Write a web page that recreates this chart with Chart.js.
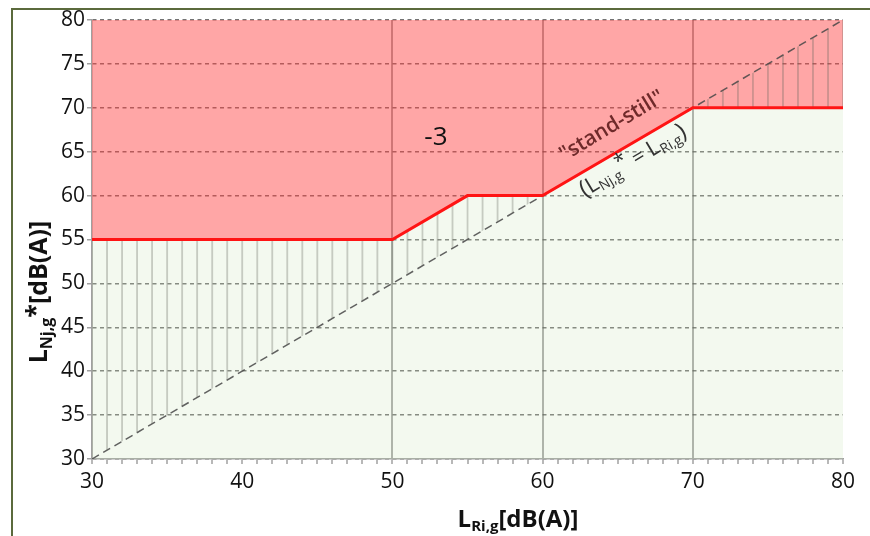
<!DOCTYPE html>
<html>
<head>
<meta charset="utf-8">
<script src="https://cdn.jsdelivr.net/npm/chart.js@4/dist/chart.umd.min.js"></script>
<style>
html, body { margin: 0; padding: 0; background: #fff; }
</style>
</head>
<body>
<canvas id="limitChart" width="870" height="536"></canvas>
<script>
// limit curve L_Nj,g* against L_Ri,g
const limitX = [30, 50, 55, 60, 70, 80];
const limitY = [55, 55, 60, 60, 70, 70];
// stand-still diagonal (L_Nj,g* = L_Ri,g)
const diagX = [30, 80];
const diagY = [30, 80];
// vertical grid lines shown inside the plot
const majorX = [50, 60, 70];

const limitPts = limitX.map((x, i) => ({ x: x, y: limitY[i] }));
const diagPts = diagX.map((x, i) => ({ x: x, y: diagY[i] }));

const FONT = '"Open Sans", "Liberation Sans", sans-serif';

// vertical hatching, one line per dB on the x axis
function hatchFill(context) {
    const chart = context.chart;
    if (!chart.chartArea) return 'rgba(0,0,0,0)';
    const xs = chart.scales.x;
    const unit = xs.getPixelForValue(31) - xs.getPixelForValue(30);
    const tile = document.createElement('canvas');
    tile.width = 16;
    tile.height = 4;
    const t = tile.getContext('2d');
    t.fillStyle = 'rgba(95,100,90,0.3)';
    t.fillRect(7, 0, 2, 4);
    const pat = chart.ctx.createPattern(tile, 'repeat');
    const s = unit / 16;
    pat.setTransform(new DOMMatrix().translate(xs.getPixelForValue(30) - 8 * s, 0).scale(s, 1));
    return pat;
}

function drawRich(ctx, parts, cx, cy, angle) {
    ctx.save();
    ctx.translate(cx, cy);
    ctx.rotate(angle);
    ctx.textAlign = 'left';
    ctx.textBaseline = 'middle';
    let total = 0;
    parts.forEach(p => {
        ctx.font = p.font;
        p.w = ctx.measureText(p.t).width;
        total += p.w;
    });
    let px = -total / 2;
    parts.forEach(p => {
        ctx.font = p.font;
        ctx.fillStyle = p.color;
        ctx.fillText(p.t, px, p.dy || 0);
        px += p.w;
    });
    ctx.restore();
}

const annotations = {
    id: 'annotations',
    beforeDraw(chart) {
        const c = chart.ctx;
        c.save();
        c.strokeStyle = '#5b6a3c';
        c.lineWidth = 2;
        c.beginPath();
        c.moveTo(12, 536);
        c.lineTo(12, 9);
        c.lineTo(870, 9);
        c.stroke();
        c.restore();
    },
    afterDraw(chart) {
        const c = chart.ctx;
        const x = chart.scales.x;
        const y = chart.scales.y;

        c.save();
        c.font = '26px ' + FONT;
        c.fillStyle = '#111';
        c.textAlign = 'center';
        c.textBaseline = 'middle';
        c.fillText('-3', x.getPixelForValue(52.9), y.getPixelForValue(66.6));
        c.restore();

        const ang = -31 * Math.PI / 180;
        drawRich(c, [
            { t: '"stand-still"', font: '600 21px ' + FONT, color: '#6e2a2a' }
        ], 612, 126, ang);

        const dark = '#333';
        drawRich(c, [
            { t: '(', font: '24px ' + FONT, color: dark },
            { t: 'L', font: '22px ' + FONT, color: dark },
            { t: 'Nj,g', font: '14px ' + FONT, color: dark, dy: 6 },
            { t: '*', font: '21px ' + FONT, color: dark, dy: -6 },
            { t: ' = ', font: '21px ' + FONT, color: dark },
            { t: 'L', font: '22px ' + FONT, color: dark },
            { t: 'Ri,g', font: '14px ' + FONT, color: dark, dy: 6 },
            { t: ')', font: '24px ' + FONT, color: dark }
        ], 633, 161, ang);

        // axis titles
        drawRich(c, [
            { t: 'L', font: 'bold 24px ' + FONT, color: '#111' },
            { t: 'Ri,g', font: 'bold 15px ' + FONT, color: '#111', dy: 7 },
            { t: '[dB(A)]', font: 'bold 24px ' + FONT, color: '#111' }
        ], 518, 520, 0);
        drawRich(c, [
            { t: 'L', font: 'bold 25px ' + FONT, color: '#111' },
            { t: 'Nj,g', font: 'bold 16px ' + FONT, color: '#111', dy: 7 },
            { t: '*', font: 'bold 25px ' + FONT, color: '#111', dy: -3 },
            { t: '[dB(A)]', font: 'bold 25px ' + FONT, color: '#111' }
        ], 40, 292, -Math.PI / 2);
    }
};

const ctxLimit = document.getElementById('limitChart').getContext('2d');
const limitChart = new Chart(ctxLimit, {
    type: 'line',
    data: {
        datasets: [
            {
                label: 'limit',
                data: limitPts,
                borderColor: '#ff1414',
                borderWidth: 3,
                pointRadius: 0,
                tension: 0,
                fill: 1,
                backgroundColor: hatchFill,
                order: 0
            },
            {
                label: 'stand-still',
                data: diagPts,
                borderColor: 'rgba(70,70,70,0.85)',
                borderWidth: 1.5,
                borderDash: [8, 5],
                pointRadius: 0,
                fill: false,
                order: 1
            },
            {
                label: 'above',
                data: limitPts,
                borderWidth: 0,
                pointRadius: 0,
                fill: 'end',
                backgroundColor: 'rgba(255,60,60,0.46)',
                order: 3
            },
            {
                label: 'below',
                data: limitPts,
                borderWidth: 0,
                pointRadius: 0,
                fill: 'start',
                backgroundColor: 'rgba(200,228,180,0.22)',
                order: 4
            }
        ]
    },
    options: {
        responsive: false,
        animation: false,
        layout: { padding: { top: 20, right: 27, left: 0, bottom: 0 } },
        plugins: {
            legend: { display: false },
            tooltip: { enabled: false }
        },
        scales: {
            x: {
                type: 'linear',
                min: 30,
                max: 80,
                afterFit: scale => { scale.height = 77; },
                ticks: {
                    stepSize: 1,
                    autoSkip: false,
                    maxTicksLimit: 100,
                    maxRotation: 0,
                    padding: 5,
                    color: '#111',
                    font: { family: FONT, size: 21 },
                    callback: v => (v % 10 === 0 ? String(v) : '')
                },
                grid: {
                    color: c => (c.tick && majorX.includes(c.tick.value)) ? 'rgba(150,150,150,0.85)' : 'rgba(0,0,0,0)',
                    lineWidth: 2,
                    tickColor: '#a0a0a0',
                    tickLength: 5,
                    tickWidth: 1.5
                },
                border: { color: '#a0a0a0', width: 1.5 }
            },
            y: {
                min: 30,
                max: 80,
                afterFit: scale => { scale.width = 92; },
                ticks: {
                    stepSize: 5,
                    padding: 2,
                    color: '#111',
                    font: { family: FONT, size: 21 }
                },
                grid: {
                    color: 'rgba(70,70,70,0.75)',
                    lineWidth: 1.5,
                    tickColor: '#a0a0a0',
                    tickLength: 5,
                    tickWidth: 1.5
                },
                border: { color: '#a0a0a0', width: 1.5, dash: [4, 3.5] }
            }
        }
    },
    plugins: [annotations]
});
</script>
</body>
</html>
